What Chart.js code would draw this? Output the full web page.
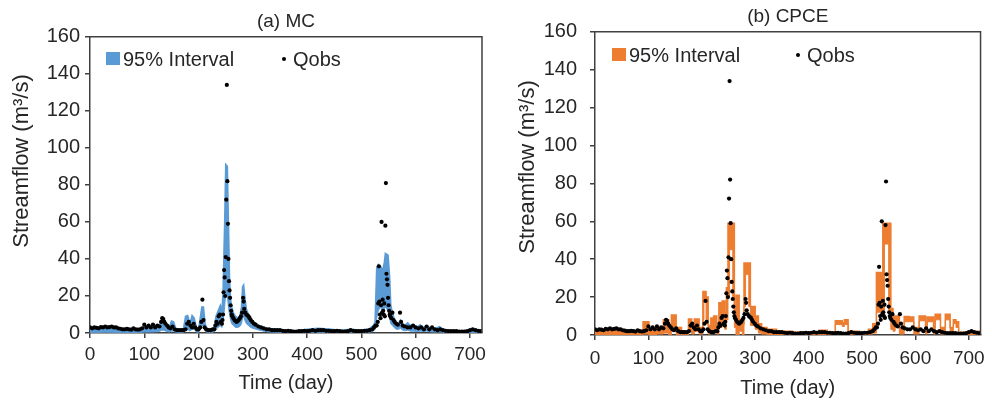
<!DOCTYPE html>
<html>
<head>
<meta charset="utf-8">
<title>Streamflow 95% interval - MC vs CPCE</title>
<script src="https://cdn.jsdelivr.net/npm/chart.js"></script>
<style>
  html, body { margin: 0; padding: 0; background: #fff; }
  #wrap { position: relative; width: 992px; height: 404px; overflow: hidden; }
  canvas { position: absolute; top: 0; }
  #chart-mc { left: 0; }
  #chart-cpce { left: 495px; }
</style>
</head>
<body>
<div id="wrap">
  <canvas id="chart-mc" width="495" height="404"></canvas>
  <canvas id="chart-cpce" width="497" height="404"></canvas>
</div>
<script>
// Observed streamflow (Qobs), same series in both panels
const obsDays = [
  0, 4, 8, 12, 16, 20, 24, 28, 32, 36,
  40, 44, 48, 52, 56, 60, 64, 68, 72, 76,
  80, 84, 88, 92, 96, 100, 104, 108, 112, 116,
  120, 124, 128, 131, 133, 135, 137, 139, 142, 145,
  148, 152, 156, 160, 164, 168, 172, 176, 179, 182,
  185, 188, 191, 194, 197, 200, 203, 205, 207, 209,
  211, 214, 218, 222, 226, 229, 231, 233, 235, 237,
  239, 241, 243, 244, 245, 246, 247, 248, 249, 250,
  251, 252, 253, 254, 255, 256, 257, 258, 259, 260,
  261, 262, 264, 266, 268, 270, 272, 274, 276, 278,
  280, 282, 283, 284, 286, 288, 290, 292, 294, 296,
  299, 302, 305, 310, 315, 320, 325, 330, 335, 340,
  345, 350, 355, 360, 365, 370, 375, 380, 385, 390,
  395, 400, 405, 410, 415, 420, 425, 430, 435, 440,
  445, 450, 455, 460, 465, 470, 475, 480, 485, 490,
  495, 500, 505, 510, 515, 520, 523, 526, 528, 530,
  531, 532, 533, 534, 535, 536, 537, 538, 539, 540,
  541, 542, 543, 544, 545, 546, 547, 548, 549, 550,
  551, 552, 553, 555, 557, 559, 561, 564, 567, 571,
  573, 576, 580, 585, 590, 595, 600, 605, 610, 615,
  620, 625, 630, 635, 640, 645, 650, 655, 660, 665,
  670, 675, 680, 685, 690, 695, 700, 705, 710, 715,
  720
];
const obsQ = [
  3, 2.5, 3, 2.8, 2.5, 3.2, 3, 3.5, 3, 3.2,
  3.5, 3, 3, 2.5, 2.3, 2, 2, 2.2, 2, 1.8,
  2.5, 2, 1.8, 2, 2.5, 4.5, 3, 4, 3, 4.5,
  3, 4, 3.5, 6, 8, 7.5, 6, 5, 4, 3,
  2.5, 3.5, 2, 1.5, 1.5, 1.5, 1.5, 2, 5, 6,
  4, 3, 5, 3, 2, 2, 3, 6, 18, 7,
  3, 2, 1.5, 1.5, 2, 2, 4, 6, 5, 9,
  10, 6, 5, 7, 10, 22, 34, 30, 20, 41,
  72, 134, 82, 59, 40, 28, 23, 19, 15, 12,
  10, 9, 8, 7, 6.5, 6, 6.5, 7, 8, 9,
  11, 19, 17, 13, 11, 10, 9.5, 9, 8, 7,
  6, 5, 4.5, 3.5, 3, 2.5, 2, 2, 1.5, 1.5,
  1.5, 1.5, 1.2, 1, 1.2, 1, 0.8, 0.8, 1, 1,
  1.2, 1, 1.2, 1.5, 1.2, 1.5, 1.5, 1.5, 1.2, 1.2,
  1, 1, 1.2, 1, 0.8, 0.8, 1, 1.5, 1.2, 1,
  1, 1, 1.2, 1.2, 1.5, 2, 3, 4, 4, 6,
  16, 36, 17, 10, 8, 15, 60, 11, 18, 12,
  10, 16, 9, 58, 81, 32, 29, 26, 19, 15,
  12, 10, 9, 8, 11, 7, 6, 5, 4.5, 11,
  6, 4, 3.5, 3, 3, 4, 3, 2.5, 3, 2,
  3.5, 2, 3, 2, 1.5, 2, 1.5, 1.2, 1, 1,
  1, 1, 0.8, 0.8, 0.8, 1, 1.5, 2, 1.5, 1.2,
  1
];

// (a) MC 95% interval
const mcDays = [
  0, 10, 30, 50, 70, 90, 100, 110, 120, 128,
  132, 136, 140, 146, 150, 154, 158, 165, 172, 176,
  180, 184, 188, 192, 196, 200, 203, 206, 209, 212,
  216, 222, 228, 232, 236, 240, 243, 245, 248, 250,
  253, 255, 257, 259, 261, 264, 268, 272, 276, 279,
  281, 283, 285, 288, 292, 296, 300, 306, 312, 320,
  330, 345, 360, 380, 400, 420, 440, 460, 480, 500,
  515, 522, 525, 528, 531, 535, 539, 542, 544, 549,
  552, 554, 557, 560, 564, 568, 572, 576, 580, 585,
  590, 596, 602, 608, 614, 620, 628, 636, 644, 650,
  660, 680, 700, 722
];
const mcLow = [
  0.3, 0.3, 0.4, 0.3, 0.2, 0.3, 0.5, 0.5, 0.6, 0.8,
  1.5, 1.5, 1, 0.5, 1, 1, 0.5, 0.3, 0.3, 1.5,
  2, 1, 2, 2, 0.5, 0.4, 2, 4, 4, 1,
  0.4, 0.3, 0.5, 2, 3, 4, 3, 6, 14, 22,
  20, 14, 10, 7, 5, 4, 3, 3, 3.5, 5,
  8, 9, 7, 5, 4, 3, 2.5, 2, 1.5, 1,
  0.6, 0.4, 0.3, 0.2, 0.3, 0.4, 0.3, 0.2, 0.3, 0.3,
  0.5, 1, 2, 8, 12, 14, 12, 13, 14, 12,
  8, 5, 4, 3, 2, 2, 2.5, 1.5, 1.2, 1.5,
  1, 1, 0.8, 1, 0.8, 1, 0.6, 0.5, 0.6, 0.4,
  0.3, 0.3, 0.3, 0.3
];
const mcUp = [
  2.6, 2.3, 2.8, 2.4, 1.8, 2.2, 3.5, 3, 4, 4,
  7, 7, 4.5, 3, 6.5, 6, 2.5, 1.8, 2, 9,
  9.5, 5, 9.5, 8, 3, 2, 8, 14, 14, 5,
  2, 1.5, 2.5, 9, 12, 15, 12, 22, 60, 91,
  90, 60, 30, 18, 14, 11, 9, 8, 9, 14,
  25, 26, 20, 13, 10, 8, 6.5, 5, 4, 3,
  2.5, 2, 1.5, 1.2, 2, 2.5, 2.2, 1.5, 2, 1.5,
  2.5, 4, 6, 35, 37, 36, 34, 38, 43, 42,
  30, 15, 11, 8, 6, 5, 7, 5, 4, 5.5,
  4, 4.5, 3, 4.5, 3, 4, 2.5, 2.5, 3.5, 2,
  1.5, 1.2, 1.5, 1.5
];

// (b) CPCE 95% interval (each value holds until the next day listed)
const cpDays = [
  0, 20, 45, 70, 90, 101, 115, 128, 138, 143,
  152, 162, 175, 181, 186, 195, 202, 204, 208, 212,
  217, 222, 228, 232, 238, 243, 246, 249, 252, 258,
  261, 264, 270, 276, 279, 282, 288, 291, 300, 306,
  312, 322, 340, 370, 420, 435, 450, 463, 467, 474,
  495, 512, 520, 527, 539, 542, 550, 554, 558, 562,
  570, 579, 588, 597, 607, 619, 622, 634, 637, 647,
  656, 665, 671, 676, 681, 700, 722
];
const cpLow = [
  0, 0, 0, 0, 0.5, 0, 0.5, 1, 0, 2,
  0, 0, 2, 0.5, 2, 0.5, 8, 18, 6, 0.5,
  2, 3, 0.5, 4, 6, 3, 8, 20, 45, 20,
  4, 0, 2, 0, 15, 32, 15, 5, 3, 1,
  0.5, 0, 0, 0, 0, 0, 5.5, 4.5, 5.5, 0,
  0, 0.5, 1, 12, 13, 48, 13, 3, 2, 5,
  0.5, 7, 7, 0.5, 7.5, 0.5, 7, 0.5, 8, 0.5,
  8, 0.5, 6, 4, 0, 0, 0
];
const cpUp = [
  2, 2.5, 2, 1.5, 7, 3, 4, 8, 4, 10.5,
  4, 2, 8.5, 5, 8.5, 4, 23, 23, 20, 5,
  9, 10, 5, 17, 18, 12, 25, 59, 59, 59,
  14, 21, 8, 6, 38, 38, 38, 15, 10, 6,
  4, 3, 2, 1.5, 2.5, 1.5, 7.5, 6.5, 8, 2,
  1.5, 3, 6, 33, 59, 59, 59, 14, 10, 10,
  4, 9.7, 9.5, 4, 10, 4, 9.5, 4, 11, 4,
  11, 4, 8, 7, 1.5, 2, 2
];

const Y_TICKS = [0, 20, 40, 60, 80, 100, 120, 140, 160];
const X_TICKS = [0, 100, 200, 300, 400, 500, 600, 700];

const AZUL = '#5B9BD5';
const NARANJA = '#ED7D31';
const EJE = '#404040';
const TEXTO = '#262626';
const FUENTE = '"Liberation Sans", Arial, sans-serif';

Chart.defaults.font.family = FUENTE;
Chart.defaults.color = TEXTO;

function puntos(xs, ys) {
  return xs.map((x, i) => ({ x, y: ys[i] }));
}

// marco superior/derecho, título del eje Y y leyenda dentro del área
const panelPlugin = {
  id: 'panel',
  afterDraw(chart, args, opts) {
    const { ctx, chartArea: a } = chart;
    ctx.save();
    ctx.strokeStyle = EJE;
    ctx.lineWidth = 1.5;
    ctx.beginPath();
    ctx.moveTo(a.left, a.top);
    ctx.lineTo(a.right, a.top);
    ctx.lineTo(a.right, a.bottom);
    ctx.stroke();

    ctx.fillStyle = TEXTO;
    ctx.save();
    ctx.translate(opts.yTitleX, opts.yTitleY);
    ctx.rotate(-Math.PI / 2);
    ctx.font = '22px ' + FUENTE;
    ctx.textAlign = 'center';
    ctx.textBaseline = 'middle';
    ctx.fillText('Streamflow (m³/s)', 0, 0);
    ctx.restore();

    const lg = opts.legend;
    ctx.fillStyle = opts.color;
    ctx.fillRect(lg.x, lg.y - 7, 14, 13);
    ctx.fillStyle = TEXTO;
    ctx.font = '20px ' + FUENTE;
    ctx.textAlign = 'left';
    ctx.textBaseline = 'middle';
    ctx.fillText('95% Interval', lg.x + 17, lg.y + 1);
    ctx.fillStyle = '#000';
    ctx.beginPath();
    ctx.arc(lg.dotX, lg.y, 2, 0, Math.PI * 2);
    ctx.fill();
    ctx.fillStyle = TEXTO;
    ctx.fillText('Qobs', lg.dotX + 9, lg.y + 1);
    ctx.restore();
  },
};

function crearPanel(id, cfg) {
  return new Chart(document.getElementById(id), {
    type: 'line',
    data: {
      datasets: [
        {
          label: 'Qobs',
          data: puntos(obsDays, obsQ),
          showLine: false,
          pointRadius: 2.1,
          pointBackgroundColor: '#000',
          pointBorderWidth: 0,
          fill: false,
        },
        {
          label: 'lower',
          data: puntos(cfg.days, cfg.low),
          borderColor: cfg.color,
          borderWidth: 1,
          pointRadius: 0,
          stepped: cfg.stepped,
          fill: false,
        },
        {
          label: '95% Interval',
          data: puntos(cfg.days, cfg.up),
          borderColor: cfg.color,
          backgroundColor: cfg.color,
          borderWidth: 1.5,
          pointRadius: 0,
          stepped: cfg.stepped,
          fill: '-1',
        },
      ],
    },
    options: {
      responsive: false,
      animation: false,
      events: [],
      layout: { padding: { left: 0, right: cfg.padRight, top: 0, bottom: 0 } },
      elements: { line: { tension: 0 } },
      plugins: {
        legend: { display: false },
        tooltip: { enabled: false },
        title: {
          display: true,
          text: cfg.title,
          fullSize: false,
          color: TEXTO,
          font: { size: 19, weight: 'normal' },
          padding: { top: cfg.titleTop, bottom: 4 },
        },
        panel: {
          color: cfg.color,
          yTitleX: cfg.yTitleX,
          yTitleY: cfg.yTitleY,
          legend: cfg.legend,
        },
      },
      scales: {
        x: {
          type: 'linear',
          min: 0,
          max: 722,
          afterBuildTicks: (s) => { s.ticks = X_TICKS.map((v) => ({ value: v })); },
          afterFit: (s) => { s.height = cfg.xHeight; },
          ticks: { font: { size: 19 }, color: TEXTO, padding: cfg.xTickPad, maxRotation: 0 },
          grid: { drawOnChartArea: false, tickLength: 5, color: EJE, lineWidth: 1.5 },
          border: { color: EJE, width: 1.5 },
          title: {
            display: true,
            text: 'Time (day)',
            color: TEXTO,
            font: { size: 20 },
            padding: { top: 2, bottom: cfg.xTitlePad },
          },
        },
        y: {
          min: 0,
          max: 160,
          afterBuildTicks: (s) => { s.ticks = Y_TICKS.map((v) => ({ value: v })); },
          afterFit: (s) => { s.width = cfg.yWidth; },
          ticks: { font: { size: 20 }, color: TEXTO, padding: cfg.yTickPad },
          grid: { drawOnChartArea: false, tickLength: 5, color: EJE, lineWidth: 1.5 },
          border: { color: EJE, width: 1.5 },
        },
      },
    },
    plugins: [panelPlugin],
  });
}

crearPanel('chart-mc', {
  title: '(a) MC',
  color: AZUL,
  days: mcDays, low: mcLow, up: mcUp,
  stepped: false,
  padRight: 13, titleTop: 10,
  xHeight: 71, xTickPad: 5, xTitlePad: 9,
  yWidth: 90, yTickPad: 5,
  yTitleX: 22, yTitleY: 161,
  legend: { x: 106, y: 59, dotX: 284 },
});

// 'before': cada valor se mantiene hasta el siguiente día de la lista
crearPanel('chart-cpce', {
  title: '(b) CPCE',
  color: NARANJA,
  days: cpDays, low: cpLow, up: cpUp,
  stepped: 'before',
  padRight: 4, titleTop: 5,
  xHeight: 69, xTickPad: 7, xTitlePad: 4,
  yWidth: 100, yTickPad: 13,
  yTitleX: 33, yTitleY: 167,
  legend: { x: 117, y: 55, dotX: 303 },
});
</script>
</body>
</html>
